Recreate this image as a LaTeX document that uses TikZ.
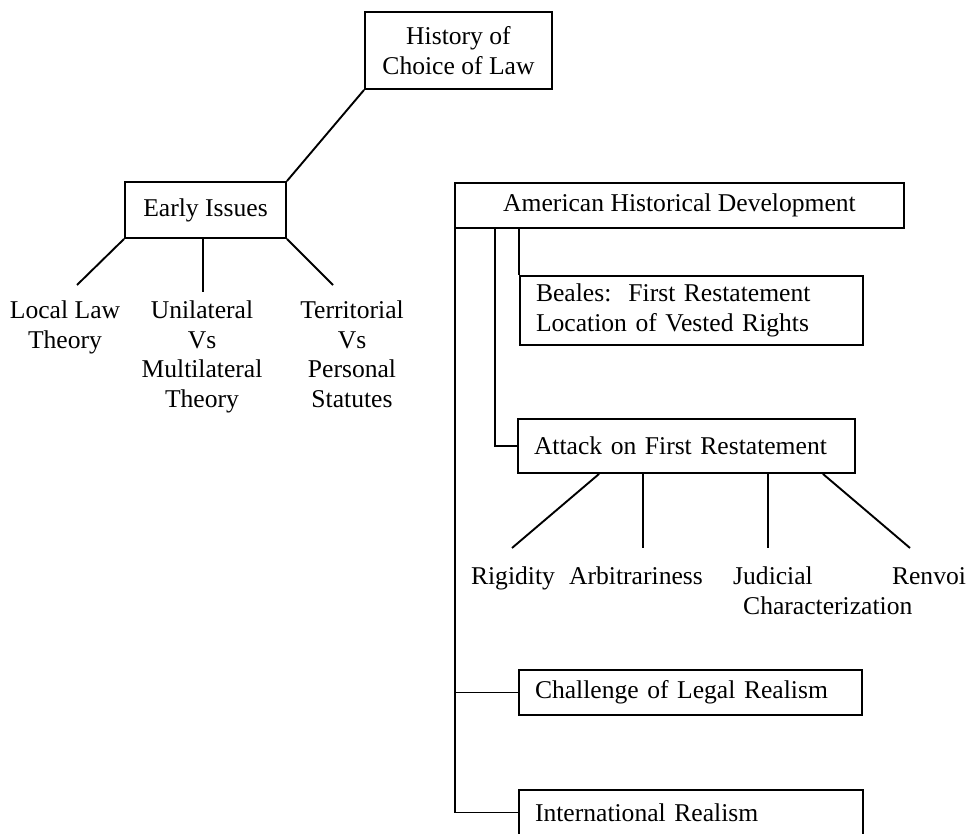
\documentclass[tikz,border=0pt]{standalone}
\usepackage{fontspec}
\setmainfont{Liberation Serif}
\usetikzlibrary{calc}
\newcommand\mydiagfont{\fontsize{25.6}{29.5}\selectfont}
\begin{document}
\begin{tikzpicture}[x=1pt,y=-1pt,
  conn/.style={line width=1.9pt},
  box/.style={draw, line width=1.9pt, inner sep=0pt, align=center, font=\mydiagfont},
  lbox/.style={draw, line width=1.9pt, inner ysep=0pt, inner xsep=16pt, align=left, font=\mydiagfont},
  lbl/.style={inner sep=0pt, align=center, anchor=north, font=\mydiagfont}]
\useasboundingbox (0,0) rectangle (970,834);

% left tree
\node[box, minimum width=187pt, minimum height=77pt] (hist) at (458.5,50.5) {History of\\Choice of Law};
\node[box, minimum width=161pt, minimum height=56pt] (early) at (205.5,210) {Early Issues};
\node[lbl] (local) at (65,301) {Local Law\\Theory};
\node[lbl] (unil) at (202,301) {Unilateral\\Vs\\Multilateral\\Theory};
\node[lbl] (terr) at (352,301) {Territorial\\Vs\\Personal\\Statutes};

\coordinate (e1) at (77,285);
\coordinate (e2) at (203,292);
\coordinate (e3) at (333,285);
\draw[conn] (hist.south west) -- (early.north east);
\draw[conn] (early.south west) -- (e1);
\draw[conn] (e2 |- early.south) -- (e2);
\draw[conn] (early.south east) -- (e3);

% right tree
\node[box, minimum width=449pt, minimum height=45pt] (amer) at (679.5,205.5) {American Historical Development};
\node[lbox, text width=311pt, minimum height=69pt] (beales) at (691.5,310.5) {Beales:\ \ First Restatement\\Location of Vested Rights};
\node[lbox, text width=305pt, minimum height=54pt] (attack) at (686.5,446) {Attack on First Restatement};
\node[lbox, text width=311pt, minimum height=45pt] (chal) at (690.5,692.5) {Challenge of Legal Realism};
\node[lbox, text width=312pt, minimum height=45pt] (intl) at (691,812.5) {International Realism};

\node[lbl] (rig) at (513,567) {Rigidity};
\node[lbl] (arb) at (636,567) {Arbitrariness};
\node[lbl, anchor=north west, align=left] (jud) at (733,567) {Judicial\\\hspace*{10pt}Characterization};
\node[lbl] (ren) at (929,567) {Renvoi};

\coordinate (trunk) at ($(amer.south west)+(1,0)$);
\coordinate (t2) at (495,228);
\draw[conn] (trunk) |- (intl.west);
\draw[conn] (trunk |- chal.west) -- (chal.west);
\draw[conn] (t2) |- (attack.west);
\draw[conn] (beales.north west |- amer.south) -- (beales.north west);

\coordinate (a1) at (512,548);
\coordinate (a2) at (643,548);
\coordinate (a3) at (768,548);
\coordinate (a4) at (910,548);
\draw[conn] ($(attack.south west)+(82,0)$) -- (a1);
\draw[conn] (a2 |- attack.south) -- (a2);
\draw[conn] (a3 |- attack.south) -- (a3);
\draw[conn] ($(attack.south east)+(-33,0)$) -- (a4);
\end{tikzpicture}
\end{document}
